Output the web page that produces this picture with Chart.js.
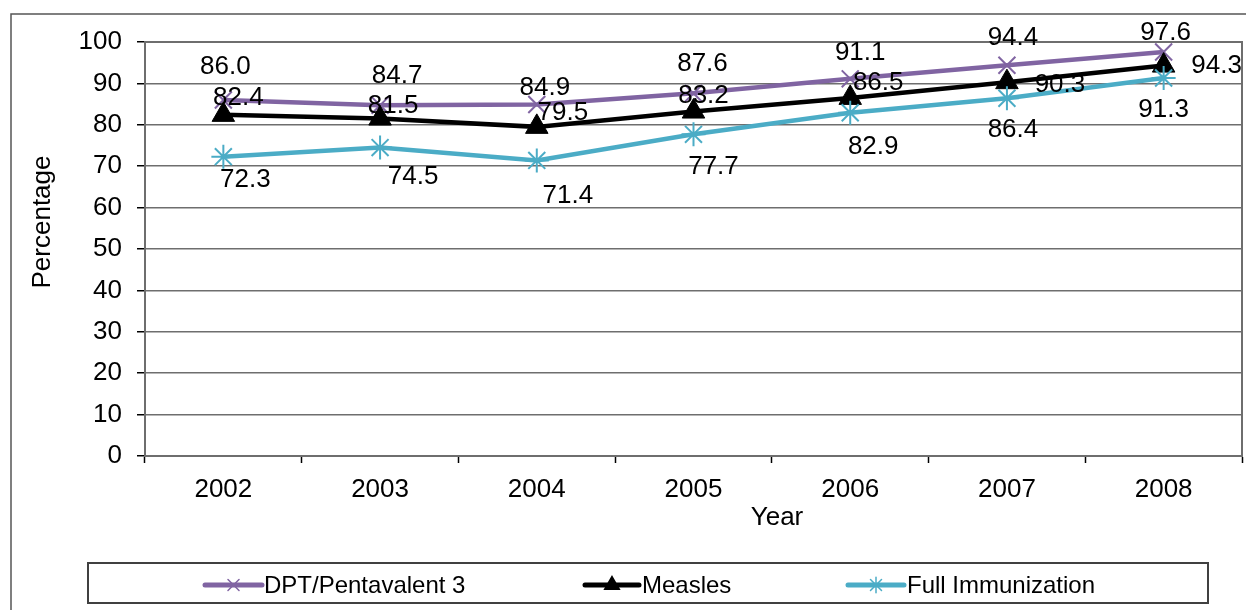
<!DOCTYPE html>
<html>
<head>
<meta charset="utf-8">
<title>Immunization coverage 2002-2008</title>
<script src="https://cdn.jsdelivr.net/npm/chart.js@4.4.1/dist/chart.umd.min.js"></script>
<style>
  html, body { margin: 0; padding: 0; background: #fff; }
  #wrap { width: 1246px; height: 610px; position: relative; }
</style>
</head>
<body>
<div id="wrap"><canvas id="chart" width="1246" height="610"></canvas></div>
<script>
// ── Data ─────────────────────────────────────────────────────────────────
const YEARS    = ['2002', '2003', '2004', '2005', '2006', '2007', '2008'];
const DPT      = [86.0, 84.7, 84.9, 87.6, 91.1, 94.4, 97.6];
const MEASLES  = [82.4, 81.5, 79.5, 83.2, 86.5, 90.3, 94.3];
const FULL_IMM = [72.3, 74.5, 71.4, 77.7, 82.9, 86.4, 91.3];

// ── Style ────────────────────────────────────────────────────────────────
const FONT   = "'Liberation Sans', Arial, sans-serif";
const PURPLE = '#8064A2';
const TEAL   = '#4BACC6';
const GRID   = '#6e6e6e';

// label nudges (px, relative to each point) – mimics the hand-placed Excel labels
const NUDGE = [
  [[2, -33], [17, -30], [8, -17], [9, -30], [10, -26], [6, -27], [2, -19]],
  [[15, -17], [13, -13], [26, -14], [10, -16], [28, -15], [53, 3], [53, 0]],
  [[22, 23], [33, 29], [31, 35], [20, 33], [23, 34], [6, 32], [0, 32]]
];

// ── Plugins ──────────────────────────────────────────────────────────────
const frame = {
  id: 'frame',
  beforeDraw(chart) {
    const ctx = chart.ctx;
    ctx.save();
    ctx.strokeStyle = '#555';
    ctx.lineWidth = 1.5;
    ctx.beginPath();
    ctx.moveTo(11, 610);
    ctx.lineTo(11, 14);
    ctx.lineTo(1246, 14);
    ctx.stroke();
    // axis titles sit off-centre in the original, so they are placed by hand
    ctx.font = `26px ${FONT}`;
    ctx.fillStyle = '#000';
    ctx.textAlign = 'center';
    ctx.textBaseline = 'middle';
    ctx.fillText('Year', 777, 518);
    ctx.translate(43, 222);
    ctx.rotate(-Math.PI / 2);
    ctx.fillText('Percentage', 0, 0);
    ctx.restore();
  },
  beforeDatasetsDraw(chart) {
    const { ctx, chartArea: a } = chart;
    ctx.save();
    ctx.strokeStyle = GRID;
    ctx.lineWidth = 2;
    ctx.strokeRect(a.left, a.top, a.right - a.left, a.bottom - a.top);
    ctx.restore();
  }
};

const valueLabels = {
  id: 'valueLabels',
  afterDatasetsDraw(chart) {
    const ctx = chart.ctx;
    ctx.save();
    ctx.font = `26px ${FONT}`;
    ctx.fillStyle = '#000';
    ctx.textAlign = 'center';
    ctx.textBaseline = 'middle';
    chart.data.datasets.forEach((ds, i) => {
      chart.getDatasetMeta(i).data.forEach((pt, j) => {
        const [dx, dy] = NUDGE[i][j];
        ctx.fillText(ds.data[j].toFixed(1), pt.x + dx, pt.y + dy);
      });
    });
    ctx.restore();
  }
};

const legendBox = {
  id: 'legendBox',
  afterDraw(chart) {
    const ctx = chart.ctx;
    const y = 585;
    const items = [
      { x1: 205, x2: 262, tx: 264, ds: 0 },
      { x1: 585, x2: 639, tx: 642, ds: 1 },
      { x1: 848, x2: 904, tx: 907, ds: 2 }
    ];
    ctx.save();
    ctx.strokeStyle = '#404040';
    ctx.lineWidth = 2;
    ctx.strokeRect(88, 563, 1120, 40);
    items.forEach(it => {
      const ds = chart.data.datasets[it.ds];
      ctx.strokeStyle = ds.borderColor;
      ctx.fillStyle = ds.pointBackgroundColor;
      ctx.lineWidth = 5;
      ctx.lineCap = 'round';
      ctx.beginPath();
      ctx.moveTo(it.x1, y);
      ctx.lineTo(it.x2, y);
      ctx.stroke();
      ctx.lineWidth = 1.5;
      Chart.helpers.drawPoint(ctx, {
        pointStyle: ds.pointStyle, radius: ds.pointRadius * 0.65,
        borderWidth: 1.5, rotation: 0
      }, (it.x1 + it.x2) / 2, y);
      ctx.fillStyle = '#000';
      ctx.font = `24px ${FONT}`;
      ctx.textAlign = 'left';
      ctx.textBaseline = 'middle';
      ctx.fillText(ds.label, it.tx, y + 1);
    });
    ctx.restore();
  }
};

// ── Chart ────────────────────────────────────────────────────────────────
new Chart(document.getElementById('chart'), {
  type: 'line',
  data: {
    labels: YEARS,
    datasets: [
      {
        label: 'DPT/Pentavalent 3',
        data: DPT,
        borderColor: PURPLE,
        pointBackgroundColor: PURPLE,
        pointBorderColor: PURPLE,
        borderWidth: 4.5,
        pointStyle: 'crossRot',
        pointRadius: 12,
        pointBorderWidth: 2,
        order: 2
      },
      {
        label: 'Measles',
        data: MEASLES,
        borderColor: '#000',
        pointBackgroundColor: '#000',
        pointBorderColor: '#000',
        borderWidth: 4.5,
        pointStyle: 'triangle',
        pointRadius: 13,
        pointBorderWidth: 1,
        order: 1
      },
      {
        label: 'Full Immunization',
        data: FULL_IMM,
        borderColor: TEAL,
        pointBackgroundColor: TEAL,
        pointBorderColor: TEAL,
        borderWidth: 4.5,
        pointStyle: 'star',
        pointRadius: 12,
        pointBorderWidth: 2,
        order: 0
      }
    ]
  },
  options: {
    responsive: false,
    devicePixelRatio: 1,
    animation: false,
    layout: { autoPadding: false, padding: { left: 14, right: 4, top: 42, bottom: 74 } },
    plugins: {
      legend: { display: false },
      tooltip: { enabled: false }
    },
    elements: { line: { tension: 0 } },
    scales: {
      x: {
        type: 'category',
        offset: true,
        afterFit(scale) { scale.height = 80; },
        grid: {
          offset: true,
          drawOnChartArea: false,
          drawTicks: true,
          tickLength: 7,
          tickColor: '#000',
          tickWidth: 1.5
        },
        border: { color: '#000', width: 2 },
        ticks: { color: '#000', font: { family: FONT, size: 26 }, padding: 11, maxRotation: 0 },
        title: { display: false }
      },
      y: {
        min: 0,
        max: 100,
        afterFit(scale) { scale.width = 131; },
        ticks: { stepSize: 10, color: '#000', font: { family: FONT, size: 26 }, padding: 15 },
        grid: {
          color: GRID,
          lineWidth: 1.5,
          drawTicks: true,
          tickLength: 8,
          tickColor: '#000',
          tickWidth: 1.5
        },
        border: { color: '#000', width: 2 },
        title: { display: false }
      }
    }
  },
  plugins: [frame, valueLabels, legendBox]
});
</script>
</body>
</html>
